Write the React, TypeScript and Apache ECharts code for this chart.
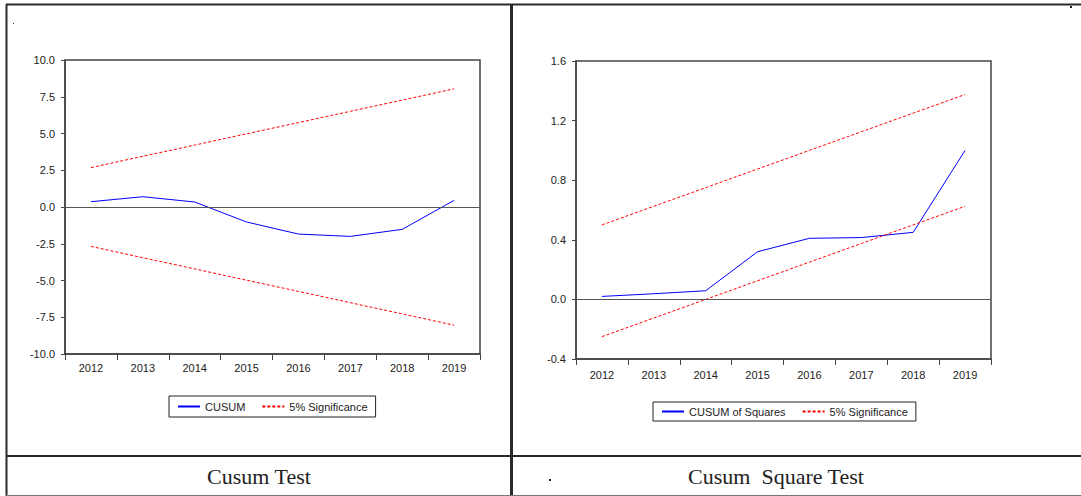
import React, { useEffect, useRef } from "react";
import * as echarts from "echarts";

const years = ["2012", "2013", "2014", "2015", "2016", "2017", "2018", "2019"];
const cusum = [0.36, 0.7, 0.34, -1.02, -1.84, -2.0, -1.52, 0.45];
const cusumUpper = [2.68, 3.45, 4.21, 4.98, 5.74, 6.51, 7.27, 8.04];
const cusumLower = [-2.68, -3.45, -4.21, -4.98, -5.74, -6.51, -7.27, -8.04];
const cusumSq = [0.02, 0.038, 0.058, 0.32, 0.41, 0.415, 0.45, 1.0];
const sqUpper = [0.5, 0.625, 0.75, 0.875, 1.0, 1.125, 1.25, 1.375];
const sqLower = [-0.25, -0.125, 0, 0.125, 0.25, 0.375, 0.5, 0.625];
const leftTitle = "Cusum Test";
const rightTitle = "Cusum  Square Test";

const SANS = "'Liberation Sans', Arial, sans-serif";
const SERIF = "'Liberation Serif', 'Times New Roman', serif";
const AXIS = "#444";

function xAxisFor(gridIndex: number, margin: number) {
  return {
    type: "category",
    gridIndex,
    data: years,
    boundaryGap: true,
    axisLine: { show: true, onZero: false, lineStyle: { color: AXIS, width: 1.5 } },
    axisTick: { show: true, length: 6, lineStyle: { color: AXIS, width: 1 } },
    axisLabel: { color: "#222", fontSize: 11, fontFamily: SANS, margin },
    splitLine: { show: false },
  };
}

function yAxisFor(gridIndex: number, min: number, max: number, interval: number) {
  return {
    type: "value",
    gridIndex,
    min,
    max,
    interval,
    axisLine: { show: true, lineStyle: { color: AXIS, width: 1.5 } },
    axisTick: { show: true, length: 4, lineStyle: { color: AXIS, width: 1 } },
    axisLabel: {
      color: "#222",
      fontSize: 11,
      fontFamily: SANS,
      margin: 10,
      formatter: (v: number) => v.toFixed(1),
    },
    splitLine: { show: false },
  };
}

const blue = { color: "#0000ff", width: 1, type: "solid" as const };
const red = { color: "#ff0000", width: 1, type: [3, 2] as any };

const zeroLine = {
  silent: true,
  symbol: ["none", "none"],
  label: { show: false },
  lineStyle: { color: "#555", type: "solid", width: 1 },
  data: [{ yAxis: 0 }],
};

const legendBase = {
  itemWidth: 22,
  itemHeight: 10,
  itemGap: 16,
  borderColor: "#222",
  borderWidth: 1,
  itemStyle: { opacity: 0 },
  textStyle: { fontSize: 11, color: "#222", fontFamily: SANS },
  selectedMode: false,
};

export default function App() {
  const ref = useRef<HTMLDivElement>(null);
  useEffect(() => {
    if (!ref.current) return;
    const chart = echarts.init(ref.current, undefined, { renderer: "svg" });
    const lineColor = "#2a2a2a";
    chart.setOption({
      animation: false,
      backgroundColor: "#ffffff",
      grid: [
        { left: 65, top: 60, width: 415, height: 294, show: true, borderColor: AXIS, borderWidth: 1.5, backgroundColor: "transparent" },
        { left: 576, top: 61, width: 415, height: 298, show: true, borderColor: AXIS, borderWidth: 1.5, backgroundColor: "transparent" },
      ],
      xAxis: [xAxisFor(0, 8), xAxisFor(1, 10)],
      yAxis: [yAxisFor(0, -10, 10, 2.5), yAxisFor(1, -0.4, 1.6, 0.4)],
      legend: [
        {
          ...legendBase,
          data: ["CUSUM", "5% Significance"],
          left: 169,
          top: 396,
          padding: [5, 8, 5, 8],
        },
        {
          ...legendBase,
          data: ["CUSUM of Squares", "5% Significance"],
          left: 653,
          top: 402,
          padding: [4, 8, 4, 8],
        },
      ],
      series: [
        { name: "CUSUM", type: "line", xAxisIndex: 0, yAxisIndex: 0, data: cusum, symbol: "none", lineStyle: blue, itemStyle: { color: "#0000ff" }, markLine: zeroLine, z: 3 },
        { name: "5% Significance", type: "line", xAxisIndex: 0, yAxisIndex: 0, data: cusumUpper, symbol: "none", lineStyle: red, itemStyle: { color: "#ff0000" } },
        { name: "5% Significance", type: "line", xAxisIndex: 0, yAxisIndex: 0, data: cusumLower, symbol: "none", lineStyle: red, itemStyle: { color: "#ff0000" } },
        { name: "CUSUM of Squares", type: "line", xAxisIndex: 1, yAxisIndex: 1, data: cusumSq, symbol: "none", lineStyle: blue, itemStyle: { color: "#0000ff" }, markLine: zeroLine, z: 3 },
        { name: "5% Significance", type: "line", xAxisIndex: 1, yAxisIndex: 1, data: sqUpper, symbol: "none", lineStyle: red, itemStyle: { color: "#ff0000" } },
        { name: "5% Significance", type: "line", xAxisIndex: 1, yAxisIndex: 1, data: sqLower, symbol: "none", lineStyle: red, itemStyle: { color: "#ff0000" } },
      ],
      graphic: [
        { type: "line", shape: { x1: 6, y1: 4.5, x2: 1081, y2: 4.5 }, style: { stroke: lineColor, lineWidth: 2 } },
        { type: "line", shape: { x1: 6.5, y1: 4, x2: 6.5, y2: 496 }, style: { stroke: lineColor, lineWidth: 2 } },
        { type: "line", shape: { x1: 511.5, y1: 4, x2: 511.5, y2: 496 }, style: { stroke: lineColor, lineWidth: 3 } },
        { type: "line", shape: { x1: 6, y1: 456, x2: 1081, y2: 456 }, style: { stroke: lineColor, lineWidth: 2 } },
        { type: "line", shape: { x1: 6, y1: 495.5, x2: 1081, y2: 495.5 }, style: { stroke: "#777", lineWidth: 1 } },
        { type: "rect", shape: { x: 13, y: 23, width: 1, height: 1 }, style: { fill: "#333" } },
        { type: "rect", shape: { x: 1070, y: 6, width: 2, height: 2 }, style: { fill: "#222" } },
        { type: "rect", shape: { x: 549, y: 479, width: 2, height: 2 }, style: { fill: "#222" } },
        {
          type: "text",
          x: 259,
          y: 476,
          style: { text: leftTitle, fontFamily: SERIF, fontSize: 22, fill: "#222", align: "center", verticalAlign: "middle" },
        },
        {
          type: "text",
          x: 776,
          y: 476,
          style: { text: rightTitle, fontFamily: SERIF, fontSize: 22, fill: "#222", align: "center", verticalAlign: "middle" },
        },
      ],
    });
    return () => chart.dispose();
  }, []);
  return (
    <div
      ref={ref}
      style={{ position: "fixed", left: 0, top: 0, width: 1081, height: 496 }}
    />
  );
}
